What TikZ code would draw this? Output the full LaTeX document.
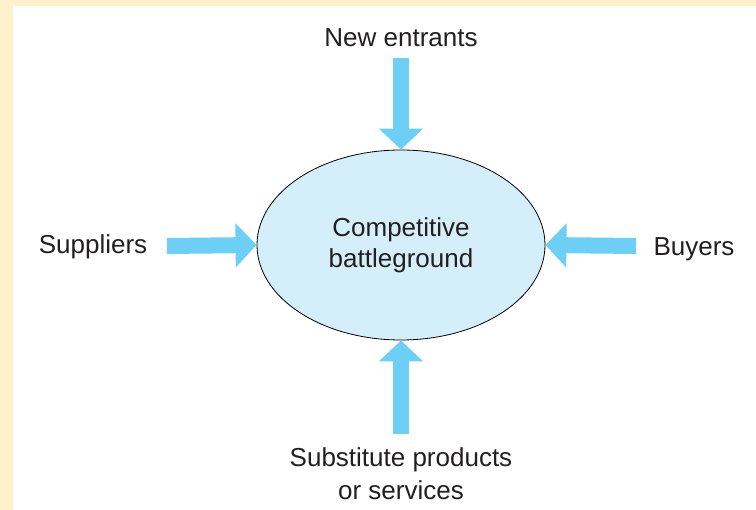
\documentclass[tikz,border=0pt]{standalone}
\usepackage{fontspec}
\setmainfont{Liberation Sans}
\usepackage{xcolor}
\usetikzlibrary{arrows.meta, shapes.geometric}

\definecolor{pagecream}{HTML}{FFF1CC}
\definecolor{forceblue}{HTML}{6DCFF6}
\definecolor{fieldblue}{HTML}{D4EEFA}
\definecolor{labelgrey}{HTML}{231F20}

\begin{document}
\begin{tikzpicture}[x=1pt, y=-1pt,
		label/.style={text=labelgrey, font=\fontsize{26}{33}\selectfont, align=center, inner sep=0pt},
		force/.style={draw=forceblue, line width=16pt, -{Triangle[width=43pt, length=21pt]}}]
		% background
		\fill[pagecream] (0,0) rectangle (756,510);
		\fill[white] (13,6) rectangle (756,510);
		\useasboundingbox (0,0) rectangle (756,510);
		
		\node[ellipse, draw, thick, fill=fieldblue, minimum width=288pt, minimum height=190pt,
			text=labelgrey, font=\fontsize{26}{31}\selectfont, align=center] (field) at (401,245)
			{Competitive\\battleground};
		
		\node[label, anchor=base] (entrants) at (401,47) {New entrants};
		\node[label, anchor=base] (suppliers) at (93,254) {Suppliers};
		\node[label, anchor=base] (buyers) at (694,256) {Buyers};
		\node[label, anchor=base] (substitutes) at (401,500) {Substitute products\\or services};
		
		\coordinate (fromtop) at (401,58);
		\coordinate (fromleft) at (167,246);
		\coordinate (fromright) at (636,246);
		\coordinate (frombottom) at (401,434);
		
		%========================================================================
		% Arrows
		\draw[force] (fromtop) to (field.north);
		\draw[force] (fromleft) to (field.west);
		\draw[force] (fromright) to (field.east);
		\draw[force] (frombottom) to (field.south);
	\end{tikzpicture}
\end{document}
